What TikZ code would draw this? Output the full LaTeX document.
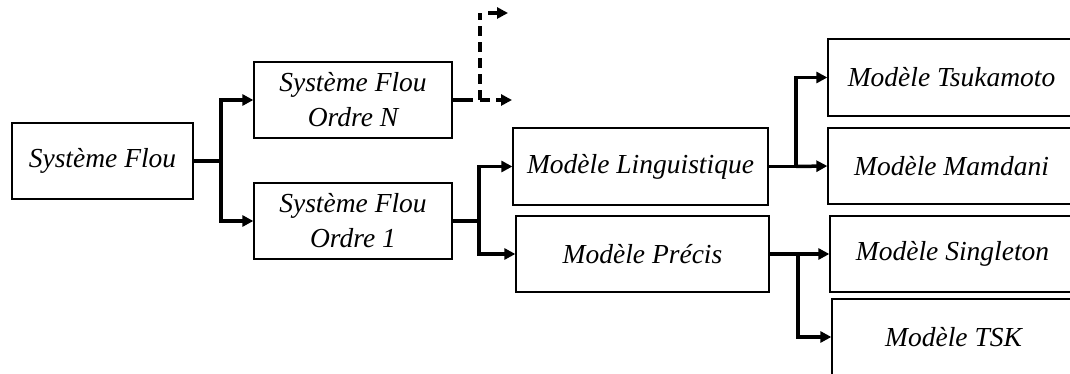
\documentclass[tikz,border=0pt]{standalone}
\usepackage{fontspec}
\setmainfont{Liberation Serif}
\usetikzlibrary{arrows.meta}
\tikzset{
  box/.style={draw=black, line width=1.3pt, rectangle, inner sep=0pt, align=center,
    font=\fontsize{27.5}{35}\selectfont\itshape},
  conn/.style={line width=3.5pt},
  arr/.style={conn, -{Triangle[length=11pt,width=11pt]}},
  dsh/.style={line width=3.5pt, dash pattern=on 10pt off 6pt}
}
\begin{document}
\begin{tikzpicture}[x=1pt,y=-1pt]
\useasboundingbox (0,0) rectangle (1070,374);
\clip (0,0) rectangle (1070,374);
\fill[white] (0,0) rectangle (1070,374);
\node[box, minimum width=181pt, minimum height=76pt] (sf) at (102.5,161) {Système Flou};
\node[box, minimum width=198pt, minimum height=76pt] (sfn) at (353,100) {Système Flou\\Ordre N};
\node[box, minimum width=198pt, minimum height=76pt] (sf1) at (353,221) {Système Flou\\Ordre 1};
\node[box, minimum width=255pt, minimum height=77pt] (ling) at (640.5,166.5) {Modèle Linguistique};
\node[box, minimum width=253pt, minimum height=76pt] (prec) at (642.5,254) {Modèle Précis};
\node[box, minimum width=247pt, minimum height=77pt] (tsu) at (951.5,77.5) {Modèle Tsukamoto};
\node[box, minimum width=247pt, minimum height=76pt] (mam) at (951.5,166) {Modèle Mamdani};
\node[box, minimum width=245pt, minimum height=76pt] (sing) at (952.5,254) {Modèle Singleton};
\node[box, minimum width=243pt, minimum height=76pt] (tsk) at (953.5,337) {Modèle TSK};

\coordinate (j1) at (221,161);
\coordinate (j2) at (479,221);
\coordinate (j3) at (796,166.5);
\coordinate (j4) at (798,254);
\draw[conn] (sf.east) -- (j1);
\draw[arr] (j1) |- (sfn.west);
\draw[arr] (j1) |- (sf1.west);
\draw[conn] (sf1.east) -- (j2);
\draw[arr] (j2) |- (ling.west);
\draw[arr] (j2) |- (prec.west);
\draw[conn] (ling.east) -- (j3);
\draw[arr] (j3) |- (tsu.west);
\draw[arr] (j3) -- (mam.west);
\draw[conn] (prec.east) -- (j4);
\draw[arr] (j4) -- (sing.west);
\draw[arr] (j4) |- (tsk.west);

\coordinate (d0) at (473,100);
\coordinate (dc) at (480,100);
\coordinate (dt) at (480,13);
\coordinate (e1) at (508,13);
\coordinate (e2) at (512,100);
\draw[conn] (sfn.east) -- (d0);
\draw[dsh] (dc) -- (dt);
\draw[dsh, -{Triangle[length=11pt,width=11pt]}] (dt) ++(8,0) -- (e1);
\draw[dsh, -{Triangle[length=11pt,width=11pt]}] (dc) -- (e2);
\end{tikzpicture}
\end{document}
